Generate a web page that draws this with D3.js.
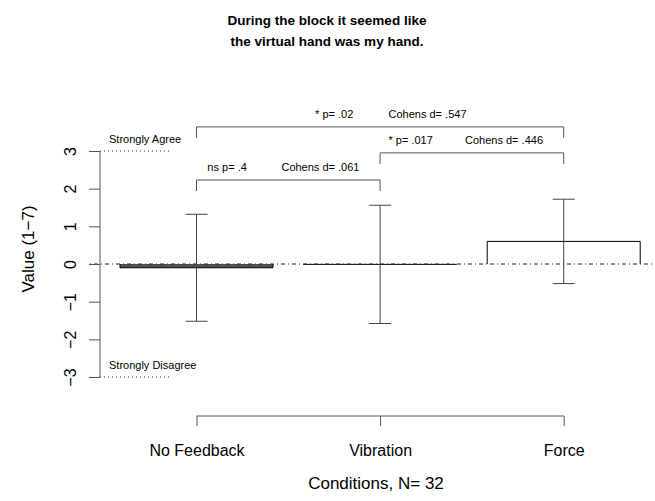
<!DOCTYPE html>
<html>
<head>
<meta charset="utf-8">
<script src="https://cdn.jsdelivr.net/npm/d3@7"></script>
<style>
  body { margin: 0; background: #fff; }
  svg { display: block; font-family: "Liberation Sans", Arial, Helvetica, sans-serif; }
</style>
</head>
<body>
<svg id="chart" width="655" height="501"></svg>
<script>
// ---- data ----
const categories = ["No Feedback", "Vibration", "Force"];
const means = [-0.1, -0.01, 0.6];
const sds = [1.42, 1.57, 1.12];
const barFills = ["#505050", "#ffffff", "#ffffff"];
const yTicks = [-3, -2, -1, 0, 1, 2, 3];
const anchorLabels = ["Strongly Agree", "Strongly Disagree"];
const anchorValues = [3, -3];
const compFrom = [0, 1, 0];
const compTo = [1, 2, 2];
const compLevel = [2.23, 2.95, 3.64];
const compP = ["ns p= .4", "* p= .017", "* p= .02"];
const compD = ["Cohens d= .061", "Cohens d= .446", "Cohens d= .547"];
const titleLines = ["During the block it seemed like", "the virtual hand was my hand."];
const xTitle = "Conditions, N= 32";
const yTitle = "Value (1\u22127)";

// ---- layout ----
const svg = d3.select("#chart");
const axisColor = "#555";
const barW = 1, space = 0.2;
const left = i => space + i * (barW + space);
const center = i => left(i) + barW / 2;

const x = d3.scaleLinear().domain([0.2, 3.6]).range([120, 640.2]);
const y = d3.scaleLinear().domain([-3, 3]).range([377, 151]);

// title
svg.append("g").selectAll("text").data(titleLines).join("text")
  .attr("x", 327).attr("y", (d, i) => 25 + i * 21)
  .attr("text-anchor", "middle").attr("font-weight", "bold").attr("font-size", 13.5)
  .text(d => d);

// bars (open path: sides + far edge)
svg.append("g").selectAll("path").data(means).join("path")
  .attr("d", (m, i) => {
    const x0 = x(left(i)), x1 = x(left(i) + barW);
    return `M${x0},${y(0)}V${y(m)}H${x1}V${y(0)}`;
  })
  .attr("fill", (d, i) => barFills[i])
  .attr("stroke", "#000").attr("stroke-width", 1);

// zero line (dot-dash)
svg.append("line")
  .attr("x1", 90).attr("x2", 655).attr("y1", y(0)).attr("y2", y(0))
  .attr("stroke", "#222").attr("stroke-width", 1).attr("stroke-dasharray", "1,3,4,3");

// error bars
const eb = svg.append("g").attr("stroke", "#444").attr("stroke-width", 1).attr("fill", "none");
means.forEach((m, i) => {
  const cx = x(center(i));
  const capHalf = 11;
  eb.append("line").attr("x1", cx).attr("x2", cx).attr("y1", y(m + sds[i])).attr("y2", y(m - sds[i]));
  eb.append("line").attr("x1", cx - capHalf).attr("x2", cx + capHalf).attr("y1", y(m + sds[i])).attr("y2", y(m + sds[i]));
  eb.append("line").attr("x1", cx - capHalf).attr("x2", cx + capHalf).attr("y1", y(m - sds[i])).attr("y2", y(m - sds[i]));
});

// y axis
const yAxis = d3.axisLeft(y).tickValues(yTicks).tickSize(11).tickFormat(d => d < 0 ? "\u2212" + Math.abs(d) : d);
const gy = svg.append("g").attr("transform", "translate(100,0)").call(yAxis);
gy.select(".domain").attr("d", `M0,${y(-3)}V${y(3)}`).attr("stroke", axisColor);
gy.selectAll(".tick line").attr("stroke", axisColor);
gy.selectAll(".tick text")
  .attr("font-size", 16).attr("fill", "#000").attr("font-family", null)
  .attr("x", null).attr("dy", null)
  .attr("text-anchor", "middle")
  .attr("transform", "translate(-30,0) rotate(-90)")
  .attr("y", 0).attr("dy", "0.35em");
svg.append("text").attr("transform", `translate(34,249) rotate(-90)`)
  .attr("text-anchor", "middle").attr("font-size", 17).text(yTitle);

// x axis
const xAxis = d3.axisBottom(x).tickValues(categories.map((c, i) => center(i)))
  .tickSize(10).tickFormat((d, i) => categories[i]);
const gx = svg.append("g").attr("transform", "translate(0,416)").call(xAxis);
gx.select(".domain").attr("d", `M${x(center(0))},0H${x(center(2))}`).attr("stroke", axisColor);
gx.selectAll(".tick line").attr("stroke", axisColor);
gx.selectAll(".tick text").attr("font-size", 16).attr("fill", "#000")
  .attr("font-family", null).attr("y", 40).attr("dy", null);
svg.append("text").attr("x", 376).attr("y", 489)
  .attr("text-anchor", "middle").attr("font-size", 17).text(xTitle);

// anchor labels + dotted lines
anchorValues.forEach((v, i) => {
  svg.append("line").attr("x1", 100).attr("x2", 172).attr("y1", y(v)).attr("y2", y(v))
    .attr("stroke", "#333").attr("stroke-width", 1).attr("stroke-dasharray", "1,3");
  svg.append("text").attr("x", 109).attr("y", y(v) - 8)
    .attr("font-size", 11).text(anchorLabels[i]);
});

// comparison brackets
const br = svg.append("g");
compFrom.forEach((a, k) => {
  const b = compTo[k];
  const xa = x(center(a)), xb = x(center(b)), yl = y(compLevel[k]);
  br.append("path").attr("d", `M${xa},${yl + 11}V${yl}H${xb}V${yl + 11}`)
    .attr("fill", "none").attr("stroke", axisColor).attr("stroke-width", 1);
  let pc, dc;
  if (b - a === 1) { pc = center(a) + 0.2; dc = center(a) + 0.81; }
  else { const mid = (center(a) + center(b)) / 2; pc = mid - 0.3; dc = mid + 0.31; }
  br.append("text").attr("x", x(pc)).attr("y", yl - 9).attr("text-anchor", "middle")
    .attr("font-size", 11).text(compP[k]);
  br.append("text").attr("x", x(dc)).attr("y", yl - 9).attr("text-anchor", "middle")
    .attr("font-size", 11).text(compD[k]);
});
</script>
</body>
</html>
